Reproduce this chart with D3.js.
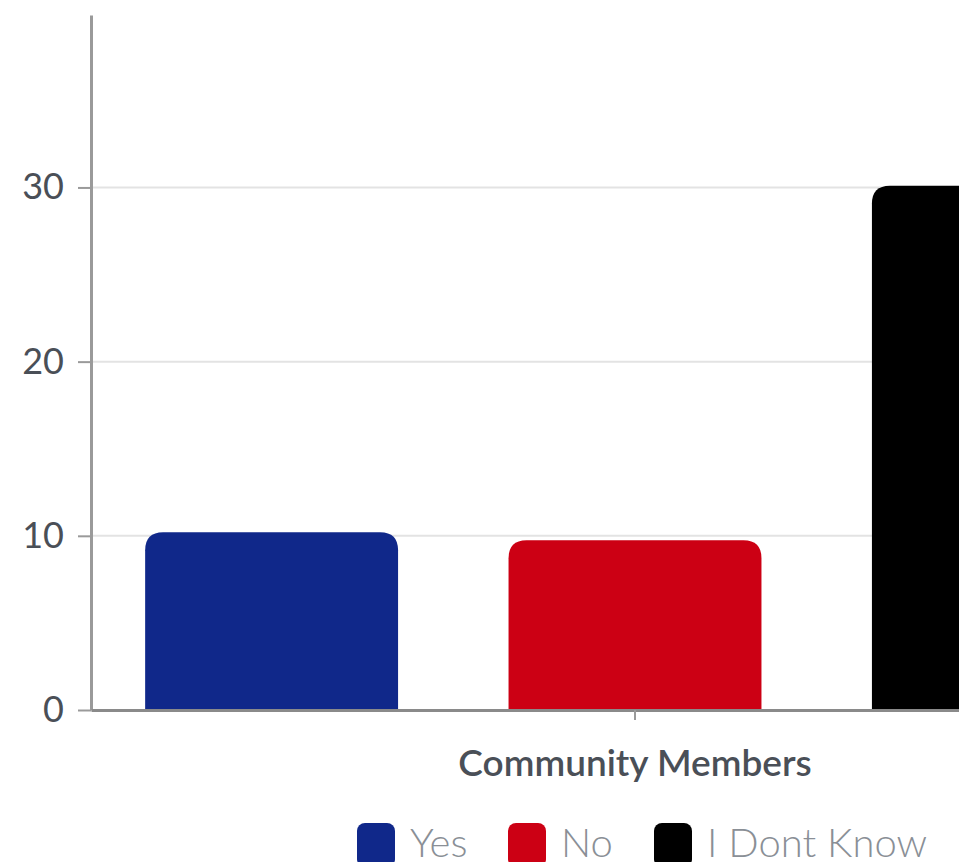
<!DOCTYPE html>
<html><head><meta charset="utf-8">
<script src="https://cdn.jsdelivr.net/npm/d3@7/dist/d3.min.js"></script>
<style>html,body{margin:0;padding:0;background:#fff;overflow:hidden}svg{display:block}</style>
</head><body><svg id="c" width="959" height="862"></svg>
<script>
const categories = ["Community Members"];
const seriesNames = ["Yes", "No", "I Dont Know"];
const seriesValues = [10.2, 9.75, 30.1];
const seriesColors = ["#10288a", "#cc0014", "#000000"];
const yTicks = [0, 10, 20, 30];

(function () {
const svg = d3.select("#c");
const mLeft = 91, mBottom = 710, mTop = 15, plotRight = 1179;
const y = d3.scaleLinear().domain([0, 39.9]).range([mBottom, mTop]);
const x0 = d3.scaleBand().domain(categories).range([mLeft, plotRight]);
const x1 = d3.scaleBand().domain(seriesNames).range([0, x0.bandwidth()]).paddingInner(0.304).paddingOuter(0.149);

// gridlines
svg.append("g").selectAll("line").data(yTicks.filter(d => d > 0)).join("line")
  .attr("x1", mLeft).attr("x2", 959).attr("y1", d => y(d)).attr("y2", d => y(d))
  .attr("stroke", "#e3e3e3").attr("stroke-width", 2);

// bars with rounded top
const r = 18;
function topRounded(x, yTop, w, h, r) {
  return `M${x},${yTop + h}V${yTop + r}Q${x},${yTop} ${x + r},${yTop}H${x + w - r}Q${x + w},${yTop} ${x + w},${yTop + r}V${yTop + h}Z`;
}
const g = svg.append("g");
categories.forEach(cat => {
  seriesNames.forEach((s, i) => {
    const bx = x0(cat) + x1(s), w = x1.bandwidth();
    const yt = y(seriesValues[i]);
    g.append("path").attr("d", topRounded(bx, yt, w, mBottom - yt, r)).attr("fill", seriesColors[i]);
  });
});

// y axis
const yAxis = d3.axisLeft(y).tickValues(yTicks).tickSize(13).tickSizeOuter(0).tickPadding(14);
const ya = svg.append("g").attr("transform", `translate(${mLeft},0)`).call(yAxis);
ya.select(".domain").attr("stroke", "#9a9a9a").attr("stroke-width", 3);
ya.selectAll(".tick line").attr("stroke", "#9a9a9a").attr("stroke-width", 2);
ya.selectAll(".tick text").attr("font-family", "Lato").attr("font-size", 36).attr("fill", "#4a4f57");

// x axis
const xAxis = d3.axisBottom(x0).tickSize(10).tickSizeOuter(0).tickPadding(30);
const xa = svg.append("g").attr("transform", `translate(0,${mBottom})`).call(xAxis);
xa.select(".domain").attr("stroke", "#8a8a8a").attr("stroke-width", 3);
xa.selectAll(".tick line").attr("stroke", "#9a9a9a").attr("stroke-width", 2);
xa.selectAll(".tick text").attr("font-family", "Lato").attr("font-size", 37).attr("font-weight", 600).attr("fill", "#4a4f57");

// legend
const legendX = [357, 508, 654];
const lg = svg.append("g");
seriesNames.forEach((s, i) => {
  lg.append("rect").attr("x", legendX[i]).attr("y", 823).attr("width", 38).attr("height", 44).attr("rx", 8)
    .attr("fill", seriesColors[i]);
  lg.append("text").attr("x", legendX[i] + 53).attr("y", 857).text(s)
    .attr("font-family", "Lato").attr("font-weight", 300).attr("font-size", 40).attr("fill", "#8a8f96");
});
})();
</script></body></html>
